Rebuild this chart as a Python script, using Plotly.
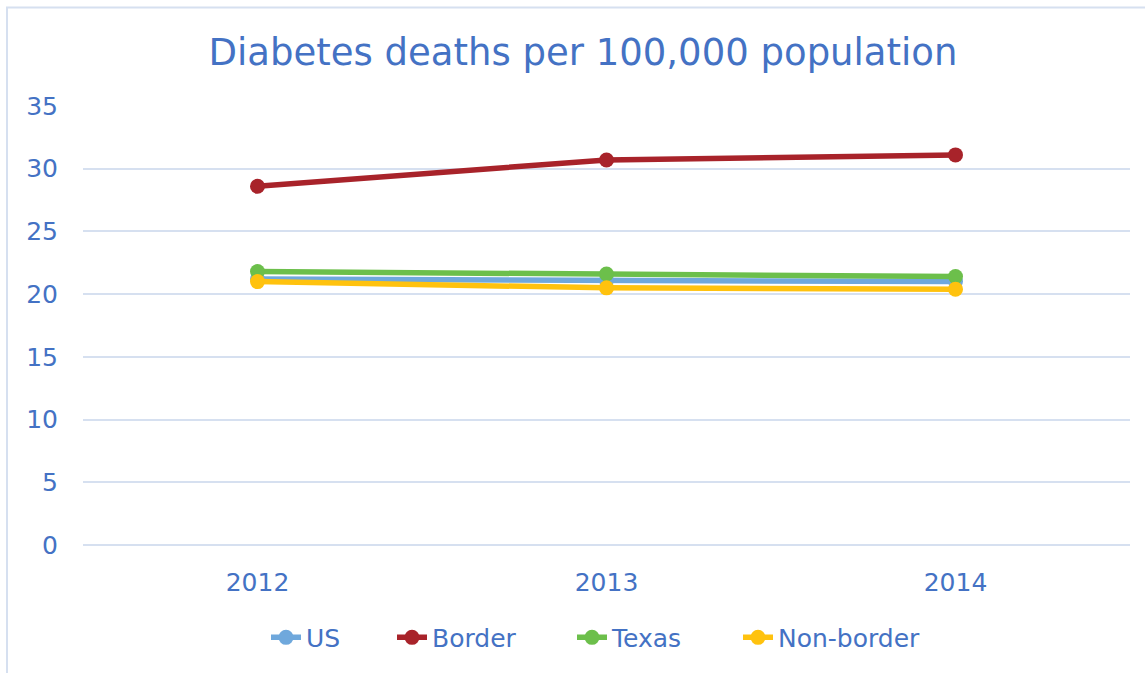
import plotly.graph_objects as go

years = ["2012", "2013", "2014"]
us = [21.2, 21.1, 21.0]
border = [28.6, 30.7, 31.1]
texas = [21.8, 21.6, 21.4]
nonborder = [21.0, 20.5, 20.4]

series = [
    ("US", us, "#6FA8DC"),
    ("Border", border, "#A8232A"),
    ("Texas", texas, "#6CBF4B"),
    ("Non-border", nonborder, "#FFC20E"),
]

W, H = 1145, 673
L, R, T, B = 83, 15, 106, 126
pw = W - L - R
ph = H - T - B

# left pixel of each legend entry's text in the reference
legend_text_x = [306, 432, 612, 778]
legend_names = ["legend", "legend2", "legend3", "legend4"]

blue = "#4472C4"
fig = go.Figure()
for (name, vals, col), lg in zip(series, legend_names):
    fig.add_trace(go.Scatter(
        x=years, y=vals, name=name, mode="lines+markers",
        line=dict(color=col, width=5.5),
        marker=dict(color=col, size=15),
        legend=lg,
    ))

legend_y = -(640 - (T + ph)) / ph
legends = {}
for lg, tx in zip(legend_names, legend_text_x):
    legends[lg] = dict(orientation="h", x=(tx - 40 - L) / pw, xanchor="left",
                       y=legend_y, yanchor="middle",
                       font=dict(size=25, color=blue),
                       bgcolor="rgba(0,0,0,0)")

fig.update_layout(
    width=W, height=H,
    margin=dict(l=L, r=R, t=T, b=B),
    paper_bgcolor="white", plot_bgcolor="white",
    font=dict(family="DejaVu Sans, Verdana, sans-serif", color=blue, size=25),
    title=dict(text="Diabetes deaths per 100,000 population",
               x=583 / W, xanchor="center", y=1 - 52 / H, yanchor="middle",
               font=dict(size=37, color=blue)),
    xaxis=dict(type="category", range=[-0.5, 2.5], showgrid=False,
               showline=False, ticks="", ticklabelstandoff=20,
               tickfont=dict(size=25, color=blue)),
    yaxis=dict(range=[0, 35], dtick=5, showgrid=True, gridcolor="#D6E0F0",
               gridwidth=1.5, zeroline=True, zerolinecolor="#D6E0F0",
               zerolinewidth=1.5, showline=False, ticks="",
               ticklabelstandoff=24, tickfont=dict(size=25, color=blue)),
    showlegend=True,
    **legends,
)

# outer chart border (extends past the right/bottom edge)
fig.add_shape(type="rect", xref="paper", yref="paper",
              x0=(7 - L) / pw, x1=(1160 - L) / pw,
              y0=(H - B - 690) / ph, y1=(H - B - 7) / ph,
              line=dict(color="#D6E0F0", width=2), fillcolor="rgba(0,0,0,0)",
              layer="below")

fig.write_html("out.html", config={"displayModeBar": False},
               post_script="document.body.style.margin='0';document.body.style.overflow='hidden';")
